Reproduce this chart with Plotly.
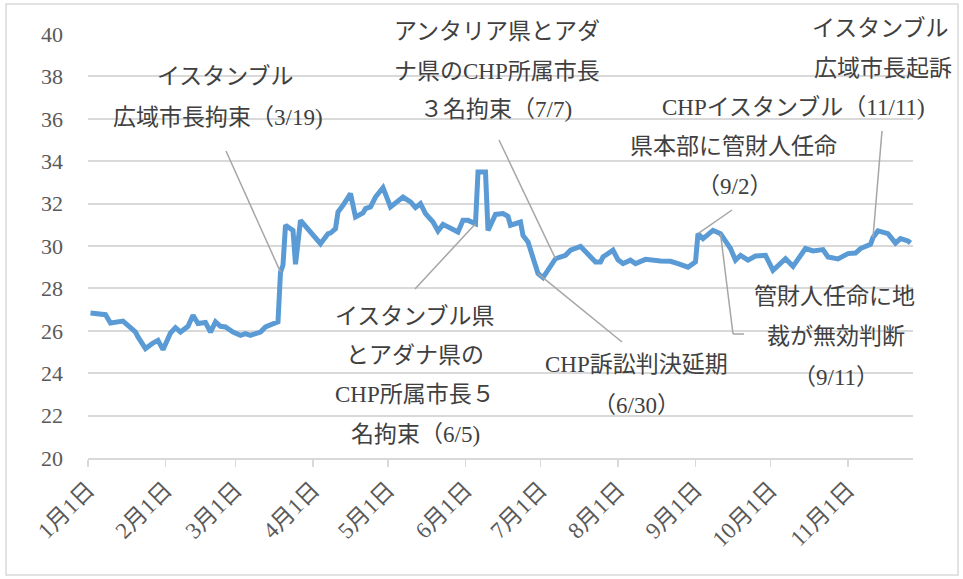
import pandas as pd
import plotly.graph_objects as go

# ---- data ----
dates = [
    "2025-01-02", "2025-01-06", "2025-01-08", "2025-01-10", "2025-01-15", "2025-01-18",
    "2025-01-20", "2025-01-21", "2025-01-24", "2025-01-27", "2025-01-29", "2025-01-31",
    "2025-02-03", "2025-02-05", "2025-02-07", "2025-02-10", "2025-02-12", "2025-02-14",
    "2025-02-17", "2025-02-19", "2025-02-21", "2025-02-23", "2025-02-25", "2025-02-28",
    "2025-03-03", "2025-03-05", "2025-03-07", "2025-03-11", "2025-03-13", "2025-03-18",
    "2025-03-19", "2025-03-20", "2025-03-21", "2025-03-24", "2025-03-25", "2025-03-27",
    "2025-03-31", "2025-04-04", "2025-04-07", "2025-04-08", "2025-04-10", "2025-04-11",
    "2025-04-13", "2025-04-16", "2025-04-18", "2025-04-21", "2025-04-22", "2025-04-24",
    "2025-04-26", "2025-04-29", "2025-05-02", "2025-05-05", "2025-05-07", "2025-05-10",
    "2025-05-12", "2025-05-14", "2025-05-16", "2025-05-19", "2025-05-21", "2025-05-23",
    "2025-05-26", "2025-05-29", "2025-05-31", "2025-06-02", "2025-06-05", "2025-06-06",
    "2025-06-09", "2025-06-10", "2025-06-13", "2025-06-16", "2025-06-18", "2025-06-19",
    "2025-06-23", "2025-06-24", "2025-06-26", "2025-06-28", "2025-06-30", "2025-07-02",
    "2025-07-07", "2025-07-11", "2025-07-13", "2025-07-17", "2025-07-20", "2025-07-23",
    "2025-07-25", "2025-07-26", "2025-07-30", "2025-08-01", "2025-08-03", "2025-08-06",
    "2025-08-08", "2025-08-12", "2025-08-18", "2025-08-22", "2025-08-25", "2025-08-29",
    "2025-09-01", "2025-09-02", "2025-09-04", "2025-09-08", "2025-09-11", "2025-09-13",
    "2025-09-15", "2025-09-17", "2025-09-19", "2025-09-22", "2025-09-25", "2025-09-29",
    "2025-10-02", "2025-10-07", "2025-10-10", "2025-10-15", "2025-10-18", "2025-10-22",
    "2025-10-24", "2025-10-28", "2025-11-01", "2025-11-04", "2025-11-06", "2025-11-10",
    "2025-11-11", "2025-11-13", "2025-11-15", "2025-11-17", "2025-11-20", "2025-11-22",
    "2025-11-25", "2025-11-26",
]
values = [
    26.84, 26.78, 26.76, 26.37, 26.46, 26.15,
    25.94, 25.71, 25.16, 25.42, 25.55, 25.11,
    25.90, 26.15, 25.94, 26.21, 26.73, 26.34,
    26.39, 25.94, 26.42, 26.21, 26.18, 25.94,
    25.79, 25.87, 25.79, 25.94, 26.18, 26.42,
    28.77, 29.10, 30.98, 30.74, 29.14, 31.21,
    30.66, 30.11, 30.58, 30.61, 30.82, 31.60,
    31.92, 32.47, 31.37, 31.56, 31.76, 31.84,
    32.31, 32.75, 31.84, 32.08, 32.31, 32.08,
    31.81, 32.00, 31.53, 31.13, 30.71, 31.02,
    30.82, 30.66, 31.21, 31.21, 31.05, 33.49,
    33.49, 30.74, 31.49, 31.53, 31.40, 30.98,
    31.13, 30.50, 30.19, 29.48, 28.70, 28.51,
    29.40, 29.56, 29.80, 29.98, 29.64, 29.25,
    29.25, 29.48, 29.80, 29.35, 29.17, 29.33,
    29.17, 29.37, 29.29, 29.28, 29.17, 29.00,
    29.25, 30.58, 30.35, 30.74, 30.58, 30.27,
    29.88, 29.33, 29.56, 29.33, 29.53, 29.56,
    28.85, 29.40, 29.04, 29.88, 29.77, 29.83,
    29.48, 29.39, 29.64, 29.67, 29.88, 30.08,
    30.40, 30.71, 30.66, 30.58, 30.14, 30.35,
    30.24, 30.14,
]
tick_dates = ["2025-01-01", "2025-02-01", "2025-03-01", "2025-04-01", "2025-05-01",
              "2025-06-01", "2025-07-01", "2025-08-01", "2025-09-01", "2025-10-01",
              "2025-11-01"]
tick_labels = ["1月1日", "2月1日", "3月1日", "4月1日", "5月1日", "6月1日",
               "7月1日", "8月1日", "9月1日", "10月1日", "11月1日"]
y_ticks = [20, 22, 24, 26, 28, 30, 32, 34, 36, 38, 40]

# event dates (annotated points) and their label lines
event_dates = ["2025-03-19", "2025-06-05", "2025-06-30", "2025-07-07",
               "2025-09-02", "2025-09-11", "2025-11-11"]
event_texts = [
    ["イスタンブル", "広域市長拘束（3/19)"],
    ["イスタンブル県", "とアダナ県の", "CHP所属市長５", "名拘束（6/5)"],
    ["CHP訴訟判決延期", "（6/30）"],
    ["アンタリア県とアダ", "ナ県のCHP所属市長", "３名拘束（7/7)"],
    ["県本部に管財人任命", "（9/2）"],
    ["管財人任命に地", "裁が無効判断", "（9/11）"],
    ["イスタンブル", "広域市長起訴", "CHPイスタンブル（11/11)"],
]

# ---- layout geometry (pixels) ----
W, H = 963, 579
L, R, T, B = 88, 50, 34, 121
PW, PH = W - L - R, H - T - B
X0 = pd.Timestamp("2025-01-01")
X1 = pd.Timestamp("2025-11-27")
PX_PER_DAY = PW / ((X1 - X0).days)
YMIN, YMAX = 20, 40


def px_to_date(px):
    return (X0 + pd.Timedelta(days=(px - L) / PX_PER_DAY)).strftime("%Y-%m-%d %H:%M")


def py_to_val(py):
    return YMIN + (H - B - py) / PH * (YMAX - YMIN)


def px_to_paper(px):
    return (px - L) / PW


def py_to_paper(py):
    return (H - B - py) / PH


# label line centres (pixels) for each event, same order as event_texts
label_pos = [
    [(225, 76), (218, 117)],
    [(415, 316), (415, 355), (415, 394), (415, 434)],
    [(636, 364), (636, 405)],
    [(497, 31), (497, 71), (496, 110)],
    [(733, 146), (734, 186)],
    [(834, 296), (836, 336), (836, 377)],
    [(880, 28), (883, 68), (793, 107)],
]
# leader line tails (pixels) for each event
leader_tails = [
    [(226, 151)],
    [(415, 289)],
    [(622, 342)],
    [(499, 140)],
    [(732, 210)],
    [(733, 334), (744, 334)],
    [(882, 131)],
]

fig = go.Figure()
fig.add_trace(go.Scatter(
    x=dates, y=values, mode="lines",
    line=dict(color="#5b9bd5", width=5, shape="linear"),
    hoverinfo="skip", showlegend=False,
))

shapes = []
# outer border
shapes.append(dict(type="rect", xref="paper", yref="paper",
                   x0=px_to_paper(6), x1=px_to_paper(958),
                   y0=py_to_paper(575), y1=py_to_paper(4),
                   line=dict(color="#d9d9d9", width=1.5), fillcolor="rgba(0,0,0,0)",
                   layer="below"))

annotations = []
for d, texts, pos, tails in zip(event_dates, event_texts, label_pos, leader_tails):
    val = values[dates.index(d)]
    prev = (d, val)
    for (tx, ty) in tails:
        nxt = (px_to_date(tx), py_to_val(ty))
        shapes.append(dict(type="line", xref="x", yref="y",
                           x0=prev[0], y0=prev[1], x1=nxt[0], y1=nxt[1],
                           line=dict(color="#a6a6a6", width=1.5), layer="above"))
        prev = nxt
    for t, (cx, cy) in zip(texts, pos):
        annotations.append(dict(
            text=t, xref="paper", yref="paper",
            x=px_to_paper(cx), y=py_to_paper(cy),
            xanchor="center", yanchor="middle", showarrow=False,
            font=dict(family="Liberation Serif, Noto Sans CJK JP", size=23, color="#404040"),
        ))

fig.update_layout(
    width=W, height=H,
    margin=dict(l=L, r=R, t=T, b=B, autoexpand=False),
    paper_bgcolor="white", plot_bgcolor="white",
    showlegend=False,
    shapes=shapes, annotations=annotations,
    xaxis=dict(
        type="date", range=[X0.strftime("%Y-%m-%d"), X1.strftime("%Y-%m-%d")],
        tickvals=tick_dates, ticktext=tick_labels, tickangle=-45,
        ticks="outside", ticklen=7, tickcolor="#d9d9d9", tickwidth=1.5,
        showline=True, linecolor="#d9d9d9", linewidth=2,
        showgrid=False, zeroline=False,
        tickfont=dict(family="Liberation Serif, Noto Sans CJK JP", size=23, color="#595959"),
    ),
    yaxis=dict(
        range=[YMIN, YMAX], tickvals=y_ticks,
        showgrid=True, gridcolor="#d9d9d9", gridwidth=2,
        zeroline=False, showline=False, ticks="", ticklabelstandoff=24,
        tickfont=dict(family="Liberation Serif, Noto Sans CJK JP", size=22, color="#595959"),
    ),
)

fig.write_html(
    "out.html",
    config={"displayModeBar": False, "staticPlot": True},
    post_script="document.body.style.margin='0';document.body.style.overflow='hidden';",
)
